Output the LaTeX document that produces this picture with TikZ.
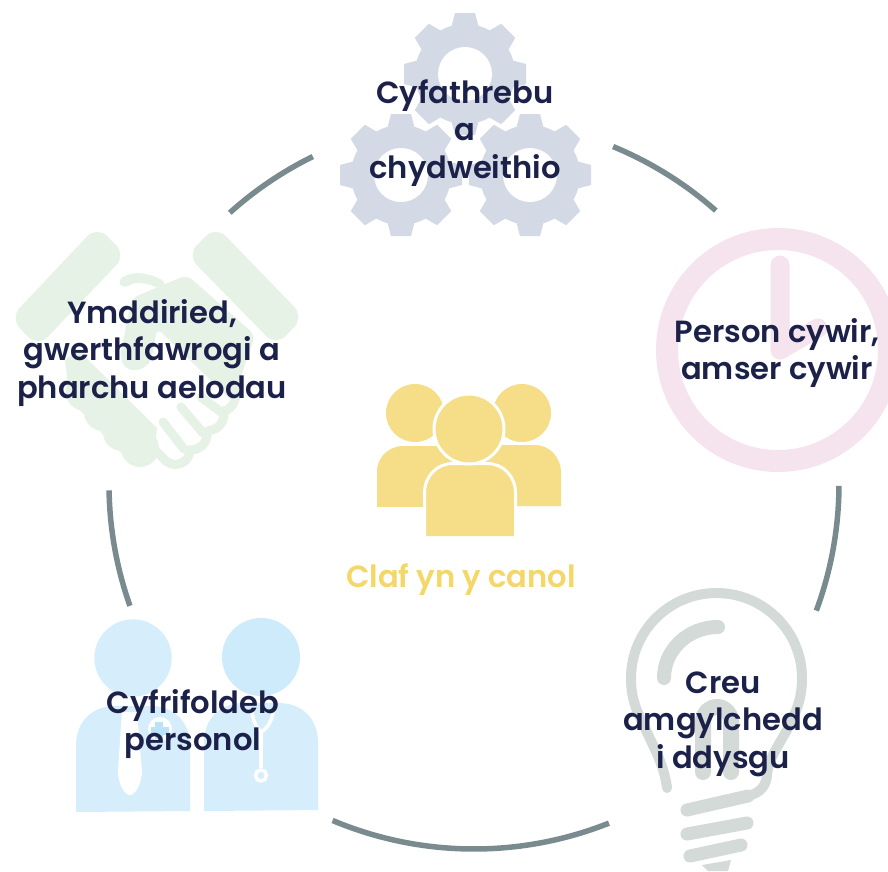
\documentclass[tikz,border=0pt]{standalone}
\usepackage{fontspec}
\setmainfont{Poppins SemiBold}
\definecolor{ink}{HTML}{1B2149}
\definecolor{ringc}{HTML}{7A8B8F}
\definecolor{gearc}{HTML}{D3DAE5}
\definecolor{clockc}{HTML}{F5E4EE}
\definecolor{bulbc}{HTML}{D3DAD7}
\definecolor{handc}{HTML}{E6F2E6}
\definecolor{docA}{HTML}{D6EEFB}
\definecolor{docB}{HTML}{CDEBFA}
\definecolor{crossc}{HTML}{B9E3F8}
\definecolor{folk}{HTML}{F5DE87}
\definecolor{folktext}{HTML}{F4D768}
\tikzset{
  lab/.style={font=\fontsize{30.6}{37.6}\selectfont, text=ink, align=center, inner sep=0pt},
  ringarc/.style={draw=ringc, line width=5.5pt},
  bulbline/.style={draw=bulbc, line width=10pt, line cap=round, line join=round},
  bulbbase/.style={draw=bulbc, line width=13pt, line cap=round},
  handline/.style={draw=handc, line width=9pt, line cap=round, line join=round}
}
\newcommand{\cog}[2]{%
  \begin{scope}[shift={(#1,#2)}]
    \fill[gearc] (0,0) circle (50);
    \foreach \a in {0,45,...,315}{
      \fill[gearc, rotate=\a] (-15,-42) -- (-10,-61) -- (10,-61) -- (15,-42) -- cycle;
    }
    \fill[white] (0,0) circle (27);
  \end{scope}}
\begin{document}
\begin{tikzpicture}[x=1pt,y=1pt,yscale=-1]
\clip (0,0) rectangle (888,871);
\fill[white] (0,0) rectangle (888,871);
% ring
\coordinate (ringc) at (474,484);
\draw[ringarc] ([shift={(228:365pt)}]ringc) arc[start angle=228,end angle=243.8,radius=365pt];
\draw[ringarc] ([shift={(292.4:365pt)}]ringc) arc[start angle=292.4,end angle=311.5,radius=365pt];
\draw[ringarc] ([shift={(0.3:365pt)}]ringc) arc[start angle=0.3,end angle=20.3,radius=365pt];
\draw[ringarc] ([shift={(68.3:365pt)}]ringc) arc[start angle=68.3,end angle=112.8,radius=365pt];
\draw[ringarc] ([shift={(160.5:365pt)}]ringc) arc[start angle=160.5,end angle=179,radius=365pt];
% gears
\cog{465}{74}
\cog{401}{175}
\cog{530}{175}
% clock
\draw[clockc, line width=22pt] (778,350) circle (111);
\draw[clockc, line width=19pt, line cap=round, line join=round] (780,265) -- (780,350) -- (818,328);
% bulb
\draw[bulbline] (667,788) .. controls (664,765) and (655,750) .. (645,728)
  .. controls (636,710) and (631,698) .. (631,678)
  arc[start angle=180,end angle=360,x radius=85.5,y radius=85]
  .. controls (802,698) and (797,710) .. (788,728)
  .. controls (776,750) and (768,760) .. (767,775)
  .. controls (766,790) and (755,794) .. (748,796);
\draw[bulbbase] (748,796) -- (687,810);
\draw[bulbline, line width=14pt] (718,627) .. controls (688,627) and (664,650) .. (664,678);
\draw[bulbline, line width=16pt] (703,772) -- (703,721) arc[start angle=180,end angle=360,radius=14] -- (731,772);
\draw[bulbbase] (687,834) -- (747,823);
\draw[bulbbase] (690,856) -- (741,845);
\fill[bulbc] (702,865) -- (731,860) -- (728,871) -- (708,871) -- cycle;
% people
\fill[folk] (415,413) circle (29);
\fill[folk] (522,413) circle (29);
\fill[folk] (377,507) -- (377,472) .. controls (377,456) and (390,446) .. (403,446) -- (440,446) -- (500,445) -- (535,445) .. controls (550,445) and (561,458) .. (561,472) -- (561,506) -- cycle;
\filldraw[fill=folk, draw=white, line width=3pt] (424.5,536) -- (424.5,493) .. controls (424.5,476) and (437,463.5) .. (453,463.5) -- (487,463.5) .. controls (503,463.5) and (515.5,476) .. (515.5,493) -- (515.5,536);
\filldraw[fill=folk, draw=white, line width=3pt] (469,429) circle (35);
% handshake: cuffs
\fill[handc, rounded corners=14pt] (97,226) -- (126,255) -- (38,347) -- (10,318) -- cycle;
\fill[handc, rounded corners=14pt] (216,226) -- (304,317) -- (276,346) -- (187,255) -- cycle;
% handshake: thumb and palm
\draw[handline] (124,282) .. controls (134,274) and (150,278) .. (166,287);
\fill[white] (128,294) -- (170,283) -- (180,276) -- (160,276) -- cycle;
\draw[handline] (126,282) .. controls (134,276) and (148,278) .. (160,284);
\fill[handc, rounded corners=7pt] (132,298) -- (187,275) -- (255,335) -- (238,385) -- (233,402) -- (157,328) -- (153,352) .. controls (148,370) and (128,376) .. (120,356) -- cycle;
% handshake: left hand
\fill[handc] (65,360) -- (78,350) -- (157,428) -- (152,462) -- (130,462) -- (70,400) -- cycle;
\fill[handc] (85,392) circle (19);
\fill[handc] (103,412) circle (19);
\fill[handc] (122,432) circle (19);
\fill[handc] (140,448) circle (19);
% handshake: fingers of the right hand
\draw[handline] (154,449) -- (166,461) .. controls (176,469) and (190,462) .. (190,450)
  .. controls (203,450) and (208,440) .. (207,431)
  .. controls (220,430) and (225,420) .. (224,411)
  .. controls (235,408) and (238,395) .. (235,385);
\draw[handline] (163,422) -- (184,449);
\draw[handline] (181,407) -- (203,433);
\draw[handline] (201,397) -- (221,412);
% doctors
\fill[docA] (133,658) circle (38.7);
\fill[docB] (261,657) circle (39);
\fill[docA] (76,812) -- (76,745) .. controls (76,722) and (92,706) .. (115,706) -- (151,706) .. controls (174,706) and (190,722) .. (190,745) -- (190,811) -- cycle;
\fill[docA] (204,811) -- (204,742) .. controls (204,719) and (220,703) .. (243,703) -- (279,703) .. controls (302,703) and (318,719) .. (318,742) -- (318,810) -- cycle;
\fill[white] (122,712) -- (137,712) -- (142,772) .. controls (141,785) and (135,795) .. (130,795) .. controls (125,795) and (118,785) .. (118,770) -- cycle;
\fill[white] (160,729) circle (12);
\fill[crossc] (155,722) rectangle (163,739);
\fill[crossc] (151,727) rectangle (169,735);
\draw[white, line width=3.5pt] (252,712) .. controls (253,722) and (258,730) .. (261,732) .. controls (268,728) and (272,720) .. (273,712);
\draw[white, line width=3.5pt] (261,732) -- (261,768);
\draw[white, line width=3.5pt] (261,775.5) circle (5.5);
% labels
\node[lab] (n1) at (465,133) {Cyfathrebu\\a\\chydweithio};
\node[lab] (n2) at (777,353) {Person cywir,\\amser cywir};
\node[lab] (n3) at (723,724) {Creu\\amgylchedd\\i ddysgu};
\node[lab] (n4) at (193,724) {Cyfrifoldeb\\personol};
\node[lab] (n5) at (152,353) {Ymddiried,\\gwerthfawrogi a\\pharchu aelodau};
\node[lab, text=folktext] (n6) at (461,580) {Claf yn y canol};
\end{tikzpicture}
\end{document}
